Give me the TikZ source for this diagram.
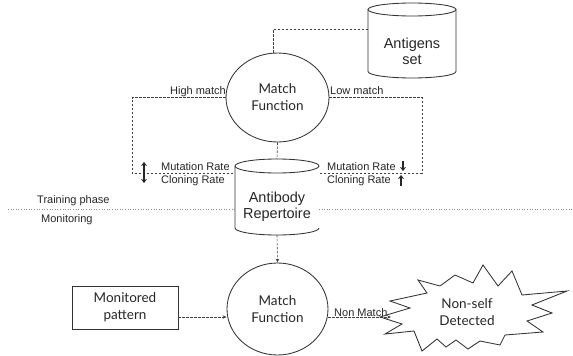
\documentclass[tikz,border=0pt]{standalone}
\usepackage{fontspec}
\setmainfont{Liberation Sans}
\newfontfamily\gill{Lato}
\usetikzlibrary{arrows.meta,shapes.geometric}
\begin{document}
\begin{tikzpicture}[x=1pt,y=-1pt,
  shp/.style={draw=black!80, line width=0.85pt},
  dsh/.style={draw=black!75, line width=0.65pt, dash pattern=on 2.4pt off 1.6pt},
  tipa/.style={-{Stealth[length=4pt,width=3.5pt]}},
  small/.style={font=\fontsize{11}{12}\selectfont, text=black!85, inner sep=0pt},
  big/.style={font=\fontsize{14.5}{16}\selectfont, align=center, text=black!85, inner sep=0pt},
  gl/.style={font=\gill\fontsize{13.5}{17}\selectfont, align=center, text=black!85, inner sep=0pt},
  rarr/.style={line width=1.5pt, black!85},
  rtip/.style={-{Stealth[length=4pt,width=6pt]}},
  sep/.style={draw=black!45, line width=0.6pt, dotted},
]
\useasboundingbox (0,0) rectangle (573,356);

% Antigens set cylinder
\draw[shp, fill=white] (412,9.5) ellipse[x radius=44, y radius=6.5];
\draw[shp] (368,9.5) -- (368,71.5) arc[start angle=180, end angle=0, x radius=44, y radius=6.5] -- (456,9.5);
\node[big, minimum width=88pt] (ag) at (412,51) {Antigens\\set};

% Antibody repertoire cylinder
\draw[shp] (277,166) ellipse[x radius=42, y radius=7];
\draw[shp] (235,166) -- (235,228) arc[start angle=180, end angle=0, x radius=42, y radius=7] -- (319,228);
\node[big, minimum width=84pt] (ab) at (277,206.5) {Antibody\\Repertoire};
\coordinate (abtop) at (277,159);
\coordinate (abbot) at (277,235);

% Match functions
\node[shp, ellipse, minimum width=103pt, minimum height=89pt, inner sep=0pt, gl] (m1) at (277.5,97.5) {Match\\Function};
\node[shp, ellipse, minimum width=101pt, minimum height=92pt, inner sep=0pt, gl] (m2) at (277.5,309) {Match\\Function};

% Monitored pattern
\node[shp, rectangle, minimum width=106pt, minimum height=43pt, inner sep=0pt, gl] (mp) at (125,307.5) {Monitored\\pattern};

% Star
\draw[shp] (390,301) -- (410,308) -- (380,317) -- (402,324) -- (385,334) -- (414,331)
  -- (422,351) -- (437,339) -- (446,347) -- (456,340) -- (468,349) -- (480,341)
  -- (500,345) -- (505,335) -- (543,332) -- (527,321) -- (552,313) -- (532,305)
  -- (567,291) -- (522,295) -- (512,271) -- (498,286) -- (483,265) -- (473,283)
  -- (455,275) -- (440,286) -- (418,280) -- (427,293) -- cycle;
\node[gl, minimum width=150pt] (ns) at (467,312) {Non-self\\Detected};
\coordinate (nsl) at (391,317);

% Connectors
\coordinate (hl) at (132,97.5);
\coordinate (lr) at (422,97.5);
\draw[dsh] ([xshift=-4pt]m1.north) |- ([yshift=22pt]ag.west);
\draw[dsh] (m1.west) -- (hl) |- ([yshift=33.5pt]ab.west);
\draw[dsh] (m1.east) -- (lr) |- ([yshift=33.5pt]ab.east);
\draw[dsh] (m1.south) -- (abtop);
\draw[dsh, tipa] (abbot) -- (m2.north);
\draw[dsh, tipa] ([yshift=-9.5pt]mp.east) -- ([yshift=-8pt]m2.west);
\draw[dsh, tipa] ([yshift=-8pt]m2.east) -- (nsl);

% Labels
\node[small, anchor=base east] (hm) at (226,94) {High match};
\node[small, anchor=base west] (lm) at (330,94) {Low match};
\node[small, anchor=base west] (mrl) at (161,170) {Mutation Rate};
\node[small, anchor=base west] (crl) at (161,183) {Cloning Rate};
\node[small, anchor=base west] (mrr) at (327,170) {Mutation Rate};
\node[small, anchor=base west] (crr) at (327,183) {Cloning Rate};
\node[small, anchor=base west] (nm) at (334,316) {Non Match};
\node[small, anchor=base west] (tp) at (37,203.5) {Training phase};
\node[small, anchor=base west] (mo) at (41,222) {Monitoring};

% rate arrows
\draw[rarr, {Stealth[length=4pt,width=6pt]}-{Stealth[length=4pt,width=6pt]}] (144,162) -- (144,183);
\draw[rarr, rtip] (403,160.5) -- (403,171);
\draw[rarr, rtip] (401,185.5) -- (401,175);

% separator
\draw[sep] (8,209) -- (235,209);
\draw[sep] (319,209) -- (573,209);
\end{tikzpicture}
\end{document}
